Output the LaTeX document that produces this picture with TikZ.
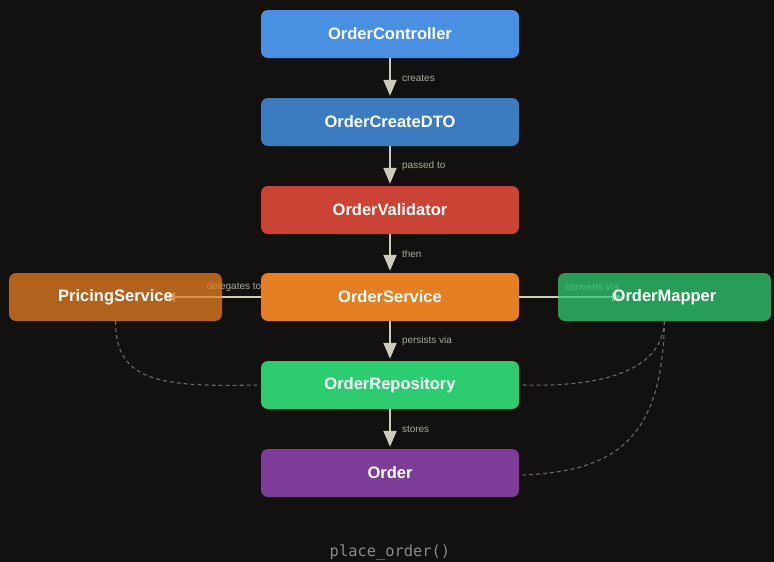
\documentclass[tikz,border=0pt]{standalone}
\usepackage{fontspec}
\setmainfont{Liberation Sans}
\newfontfamily\codefont{DejaVu Sans Mono}
\usetikzlibrary{arrows.meta}
\definecolor{bgc}{HTML}{131110}
\definecolor{cCtrl}{HTML}{4A90E2}
\definecolor{cDto}{HTML}{3D7BC0}
\definecolor{cVal}{HTML}{CB4335}
\definecolor{cSvc}{HTML}{E67E22}
\definecolor{cRepo}{HTML}{2ECC71}
\definecolor{cOrd}{HTML}{7D3C98}
\definecolor{arrc}{HTML}{CDCABE}
\definecolor{lblc}{HTML}{ABA89F}
\definecolor{dashc}{HTML}{6B6966}
\definecolor{codec}{HTML}{8C8A88}
\pgfdeclarelayer{canvas}
\pgfdeclarelayer{bg}
\pgfsetlayers{canvas,bg,main}
\tikzset{
  box/.style={rounded corners=7pt, minimum width=258pt, minimum height=48pt, inner sep=0pt,
    text=white, font=\fontsize{16.5}{18}\selectfont\bfseries},
  sidebox/.style={box, minimum width=213pt, fill opacity=0.75, text opacity=1},
  flow/.style={draw=arrc, line width=2pt, -{Triangle[length=16pt,width=13pt]}, shorten >=2pt},
  hflow/.style={draw=arrc, line width=2pt, -{Triangle[length=10pt,width=9pt]}},
  lbl/.style={text=lblc, font=\fontsize{10}{12}\selectfont, inner sep=0pt},
  dep/.style={draw=dashc, line width=1.1pt, dash pattern=on 4pt off 3pt}
}
\begin{document}
\begin{tikzpicture}[x=1pt,y=-1pt]
\begin{pgfonlayer}{canvas}
\fill[bgc] (0,0) rectangle (774,562);
\end{pgfonlayer}
\useasboundingbox (0,0) rectangle (774,562);

\node[box, fill=cCtrl] (C) at (390,34) {OrderController};
\node[box, fill=cDto] (D) at (390,122) {OrderCreateDTO};
\node[box, fill=cVal] (V) at (390,210) {OrderValidator};
\node[box, fill=cSvc] (S) at (390,297) {OrderService};
\node[sidebox, fill=cSvc] (P) at (115.5,297) {PricingService};
\node[sidebox, fill=cRepo] (M) at (664.5,297) {OrderMapper};
\node[box, fill=cRepo] (R) at (390,385) {OrderRepository};
\node[box, fill=cOrd] (O) at (390,473) {Order};
\node[text=codec, font=\codefont\fontsize{15.4}{17}\selectfont, inner sep=0pt] (code) at (390,552) {place\_order()};

\coordinate (pTip) at (165,297);
\coordinate (mTip) at (622,297);

\begin{pgfonlayer}{bg}
\draw[flow] (C.south) -- node[lbl, right, xshift=11pt] {creates} (D.north);
\draw[flow] (D.south) -- node[lbl, right, xshift=11pt] {passed to} (V.north);
\draw[flow] (V.south) -- node[lbl, right, xshift=11pt] {then} (S.north);
\draw[flow] (S.south) -- node[lbl, right, xshift=11pt] {persists via} (R.north);
\draw[flow] (R.south) -- node[lbl, right, xshift=11pt] {stores} (O.north);
\draw[hflow] (S.west) -- (pTip);
\draw[hflow] (S.east) -- (mTip);
\node[lbl] (lp) at (234,287) {delegates to};
\node[lbl] (lm) at (592,287) {converts via};
\draw[dep] (P.south) .. controls (115.5,382) and (160,387) .. ([xshift=-4pt]R.west);
\draw[dep] (M.south) .. controls (662,372) and (600,387) .. ([xshift=4pt]R.east);
\draw[dep] (M.south) .. controls (662,440) and (615,471) .. ([xshift=4pt,yshift=-2pt]O.east);
\end{pgfonlayer}
\end{tikzpicture}
\end{document}
